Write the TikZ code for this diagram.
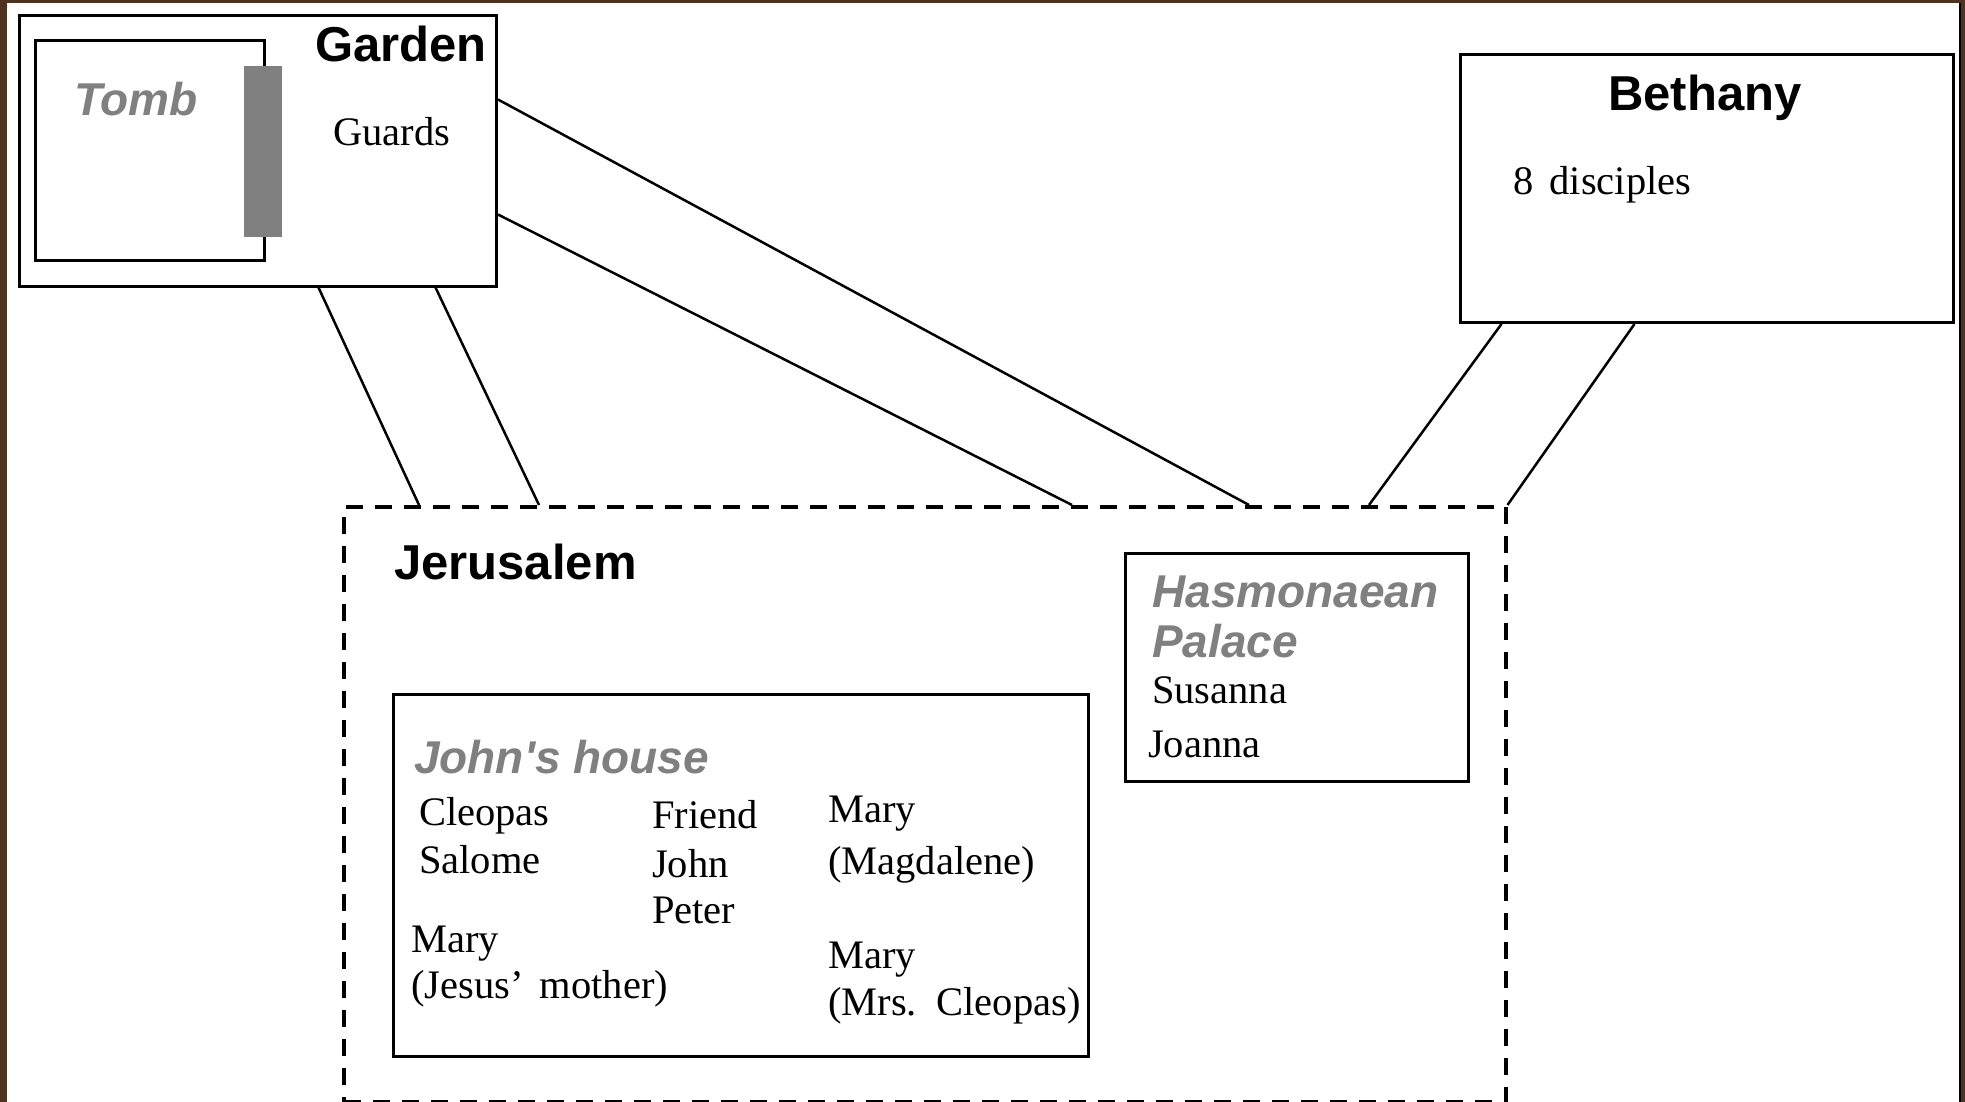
\documentclass[tikz,border=0pt]{standalone}
\usepackage{fontspec}
\setmainfont[WordSpace=1.6]{Liberation Serif}
\newfontfamily\headfont{Liberation Sans}
\usetikzlibrary{calc}
\definecolor{frame}{RGB}{78,52,32}
\definecolor{midgray}{RGB}{128,128,128}
\tikzset{
  box/.style={draw=black, line width=3pt, fill=white, rectangle, inner sep=0pt, anchor=north west},
  dbox/.style={draw=black, line width=3.5pt, dash pattern=on 17pt off 12pt, rectangle, inner sep=0pt, anchor=north west},
  head/.style={inner sep=0pt, anchor=base west, font=\headfont\bfseries\fontsize{49}{58}\selectfont},
  sub/.style={inner sep=0pt, anchor=base west, text=midgray, font=\headfont\bfseries\itshape\fontsize{46}{55}\selectfont},
  body/.style={inner sep=0pt, anchor=base west, font=\fontsize{40.5}{48}\selectfont},
  link/.style={draw=black, line width=2.5pt}
}
\begin{document}
\begin{tikzpicture}[x=1pt,y=-1pt]
\useasboundingbox (0,0) rectangle (1965,1102);
\fill[frame] (0,0) rectangle (1965,1102);
\fill[white] (7,3) rectangle (1959,1102);
\fill[black] (1959,3) rectangle (1961,1102);

% Garden and tomb
\node[box, minimum width=477.5pt, minimum height=270pt] (garden) at (17.5,14.5) {};
\node[box, minimum width=228.5pt, minimum height=219.5pt] (tomb) at (34,39.5) {};
\node[rectangle, fill=midgray, inner sep=0pt, anchor=north west, minimum width=38pt, minimum height=171pt] (door) at (244,66) {};
\node[head] (gardenlbl) at (315,62) {Garden};
\node[sub] (tomblbl) at (74,116) {Tomb};
\node[body] (guards) at (333,146) {Guards};

% Bethany
\node[box, minimum width=493pt, minimum height=268pt] (beth) at (1459,53) {};
\node[head] (bethlbl) at (1608,111) {Bethany};
\node[body] (disc) at (1513,195) {8 disciples};

% Jerusalem
\node[dbox, minimum width=1162pt, minimum height=595pt] (jer) at (342,505) {};
\node[head] (jerlbl) at (394,579) {Jerusalem};

% Hasmonaean Palace
\node[box, minimum width=343pt, minimum height=228pt] (palace) at (1124,552) {};
\node[sub] (pal1) at (1152,607) {Hasmonaean};
\node[sub] (pal2) at (1152,657) {Palace};
\node[body] (susanna) at (1152,703) {Susanna};
\node[body] (joanna) at (1148,757) {Joanna};

% John's house
\node[box, minimum width=695pt, minimum height=362pt] (house) at (392,693) {};
\node[sub] (houselbl) at (414,773) {John's house};
\node[body] (cleopas) at (419,825) {Cleopas};
\node[body] (salome) at (419,873) {Salome};
\node[body] (marya) at (411,952) {Mary};
\node[body] (maryb) at (411,998) {(Jesus’ mother)};
\node[body] (friend) at (652,828) {Friend};
\node[body] (john) at (652,877) {John};
\node[body] (peter) at (652,923) {Peter};
\node[body] (maryc) at (828,822) {Mary};
\node[body] (maryd) at (828,874) {(Magdalene)};
\node[body] (marye) at (828,968) {Mary};
\node[body] (maryf) at (828,1015) {(Mrs. Cleopas)};

% Connectors
\draw[link] ([xshift=301pt]garden.south west) -- ([xshift=77pt]jer.north west);
\draw[link] ([xshift=418pt]garden.south west) -- ([xshift=197pt]jer.north west);
\draw[link] ([yshift=-85pt]garden.north east) -- ([xshift=907pt]jer.north west);
\draw[link] ([yshift=-200pt]garden.north east) -- ([xshift=730pt]jer.north west);
\draw[link] ([xshift=42.5pt]beth.south west) -- ([xshift=1027pt]jer.north west);
\draw[link] ([xshift=175.5pt]beth.south west) -- (jer.north east);
\end{tikzpicture}
\end{document}
